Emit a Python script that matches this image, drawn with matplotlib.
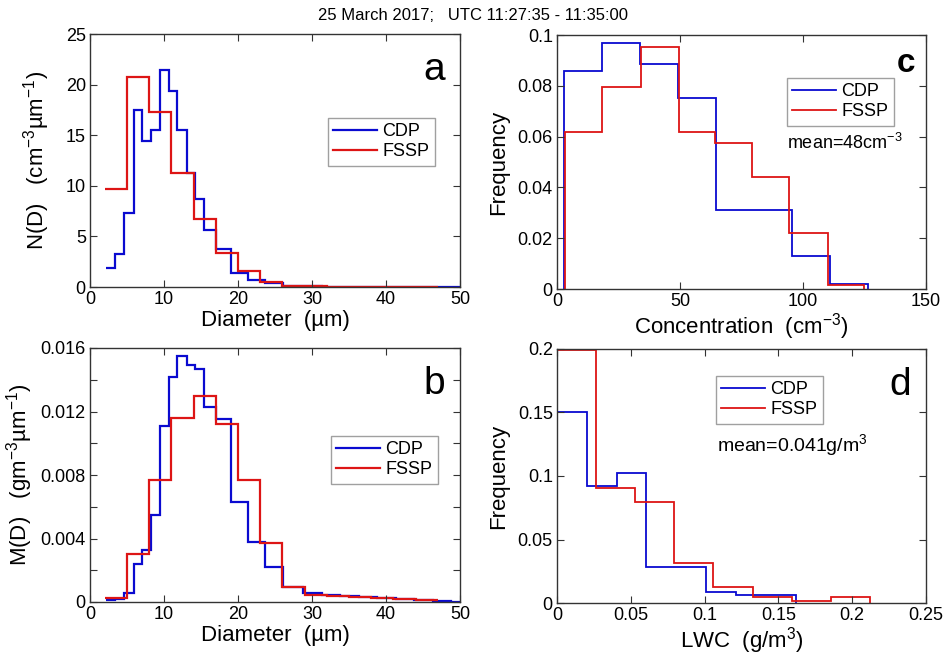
import matplotlib
matplotlib.use('Agg')
import matplotlib.pyplot as plt
from matplotlib import font_manager
from matplotlib.ticker import MultipleLocator, FuncFormatter

plt.rcParams['font.family'] = 'Liberation Sans'
plt.rcParams['mathtext.default'] = 'regular'

# ---- data ----
# panel a / b : size distributions (CDP with its own bin edges, FSSP 3 um bins)
cdp_edges = [2.2, 3.4, 4.6, 5.9, 7.0, 8.3, 9.4, 10.7, 11.8, 13.1, 14.2, 15.4, 17.0,
             19.0, 21.4, 23.6, 26.1, 28.8, 31.3, 33.8, 36.3, 38.8, 41.3, 43.8, 46.3,
             48.8, 50.0]
fssp_edges = [2, 5, 8, 11, 14, 17, 20, 23, 26, 29, 32, 35, 38, 41, 44, 47]

cdp_N = [1.9, 3.3, 7.3, 17.5, 14.4, 15.5, 21.4, 19.4, 15.5, 11.3, 8.7, 5.6, 3.8,
         1.4, 0.7, 0.35, 0.1, 0.06, 0.04, 0.03, 0.02, 0.015, 0.01, 0.01, 0.005, 0.0]
fssp_N = [9.65, 20.8, 17.3, 11.3, 6.7, 3.4, 1.6, 0.53, 0.1, 0.06, 0.04, 0.03,
          0.02, 0.01, 0.01]

cdp_M = [0.00015, 0.0002, 0.00055, 0.0024, 0.0033, 0.0055, 0.0111, 0.0142, 0.0155,
         0.0149, 0.0147, 0.0123, 0.0115, 0.0063, 0.0038, 0.0022, 0.00093, 0.00059,
         0.00044, 0.00035, 0.0003, 0.00025, 0.0002, 0.00012, 0.00005, 0.0]
fssp_M = [0.00023, 0.0030, 0.0077, 0.0116, 0.0130, 0.0112, 0.0077, 0.0037, 0.00093,
          0.00044, 0.00035, 0.0003, 0.00025, 0.0002, 0.00012]

# panel c : concentration frequency
cdp_conc_edges = [3, 18.4, 33.9, 49.3, 64.8, 80.2, 95.6, 111.1, 126.5]
cdp_conc_freq = [0.086, 0.097, 0.0885, 0.075, 0.031, 0.031, 0.013, 0.002]
fssp_conc_edges = [3.2, 18.4, 34.0, 49.4, 64.3, 79.2, 94.5, 110.0, 124.6]
fssp_conc_freq = [0.0617, 0.0794, 0.0952, 0.0617, 0.0574, 0.0442, 0.0219, 0.0016]

# panel d : LWC frequency
cdp_lwc_edges = [0, 0.0202, 0.0404, 0.0606, 0.0808, 0.101, 0.1212, 0.1414, 0.1616]
cdp_lwc_freq = [0.1506, 0.0924, 0.1021, 0.0286, 0.0286, 0.0084, 0.0063, 0.0063]
fssp_lwc_edges = [0, 0.0265, 0.053, 0.0795, 0.106, 0.1325, 0.159, 0.1855, 0.212]
fssp_lwc_freq = [0.199, 0.0908, 0.0793, 0.0317, 0.0128, 0.005, 0.0018, 0.0045]

title = '25 March 2017;   UTC 11:27:35 - 11:35:00'

BLUE = '#0a0ad0'
RED = '#dd1515'
W, H = 947, 658

fig = plt.figure(figsize=(W / 100, H / 100), dpi=100)


def box(x0, y0, x1, y1):
    # pixel box -> figure rect
    return [x0 / W, 1 - y1 / H, (x1 - x0) / W, (y1 - y0) / H]


def style(ax):
    for s in ax.spines.values():
        s.set_color('#333333')
        s.set_linewidth(1.0)
    ax.tick_params(direction='in', top=True, right=True, length=5,
                   labelsize=13, color='#333333', pad=3)


def legend(ax, x, y):
    leg = ax.legend(loc='upper left', bbox_to_anchor=(x / W, 1 - y / H),
                    bbox_transform=fig.transFigure, fontsize=13, fancybox=False,
                    borderaxespad=0, handlelength=2.4, handletextpad=0.3,
                    labelspacing=0.15, borderpad=0.3)
    leg.get_frame().set_edgecolor('#888888')
    leg.get_frame().set_linewidth(1.0)


def ptext(x, y, s, **kw):
    # text placed by pixel position (from top-left)
    fig.text(x / W, 1 - y / H, s, **kw)


fmt = FuncFormatter(lambda v, p: '%g' % round(v, 6))

# ---- a ----
ax = fig.add_axes(box(90, 34, 460, 287))
ax.stairs(cdp_N, cdp_edges, baseline=None, color=BLUE, lw=1.6, label='CDP')
ax.stairs(fssp_N, fssp_edges, baseline=None, color=RED, lw=1.6, label='FSSP')
ax.set_xlim(0, 50)
ax.set_ylim(0, 25)
ax.xaxis.set_major_locator(MultipleLocator(10))
ax.yaxis.set_major_locator(MultipleLocator(5))
style(ax)
ax.set_xlabel('Diameter  (µm)', fontsize=16, labelpad=1)
ax.set_ylabel('N(D)   (cm$^{-3}$µm$^{-1}$)', fontsize=16, labelpad=10)
ax.text(0.96, 0.93, 'a', transform=ax.transAxes, ha='right', va='top', fontsize=28)
legend(ax, 328, 118)

# ---- b ----
ax = fig.add_axes(box(90, 348, 460, 602))
ax.stairs(cdp_M, cdp_edges, baseline=None, color=BLUE, lw=1.6, label='CDP')
ax.stairs(fssp_M, fssp_edges, baseline=None, color=RED, lw=1.6, label='FSSP')
ax.set_xlim(0, 50)
ax.set_ylim(0, 0.016)
ax.xaxis.set_major_locator(MultipleLocator(10))
ax.yaxis.set_major_locator(MultipleLocator(0.002))
ax.yaxis.set_major_formatter(FuncFormatter(
    lambda v, p: ('%g' % round(v, 6)) if round(v / 0.002) % 2 == 0 else ''))
style(ax)
ax.set_xlabel('Diameter  (µm)', fontsize=16, labelpad=1)
ax.set_ylabel('M(D)   (gm$^{-3}$µm$^{-1}$)', fontsize=16, labelpad=4)
ax.text(0.96, 0.93, 'b', transform=ax.transAxes, ha='right', va='top', fontsize=28)
legend(ax, 331, 436)

# ---- c ----
ax = fig.add_axes(box(557, 35, 926, 289))
ax.stairs(cdp_conc_freq, cdp_conc_edges, baseline=0, color=BLUE, lw=1.3, label='CDP')
ax.stairs(fssp_conc_freq, fssp_conc_edges, baseline=0, color=RED, lw=1.3, label='FSSP')
ax.set_xlim(0, 150)
ax.set_ylim(0, 0.1)
ax.xaxis.set_major_locator(MultipleLocator(50))
ax.yaxis.set_major_locator(MultipleLocator(0.02))
ax.yaxis.set_major_formatter(fmt)
style(ax)
ax.set_xlabel('Concentration  (cm$^{-3}$)', fontsize=16, labelpad=1)
ax.set_ylabel('Frequency', fontsize=16, labelpad=6)
ax.text(0.97, 0.95, 'c', transform=ax.transAxes, ha='right', va='top',
        fontsize=24, fontweight='bold')
ptext(787, 143, 'mean=48cm$^{-3}$', fontsize=13, va='center')
legend(ax, 787, 78)

# ---- d ----
ax = fig.add_axes(box(557, 349, 926, 603))
ax.stairs(cdp_lwc_freq, cdp_lwc_edges, baseline=0, color=BLUE, lw=1.3, label='CDP')
ax.stairs(fssp_lwc_freq, fssp_lwc_edges, baseline=0, color=RED, lw=1.3, label='FSSP')
ax.set_xlim(0, 0.25)
ax.set_ylim(0, 0.2)
ax.xaxis.set_major_locator(MultipleLocator(0.05))
ax.yaxis.set_major_locator(MultipleLocator(0.05))
ax.xaxis.set_major_formatter(fmt)
ax.yaxis.set_major_formatter(fmt)
style(ax)
ax.set_xlabel('LWC  (g/m$^3$)', fontsize=16, labelpad=1)
ax.set_ylabel('Frequency', fontsize=16, labelpad=6)
ax.text(0.96, 0.93, 'd', transform=ax.transAxes, ha='right', va='top', fontsize=28)
ptext(717, 445, 'mean=0.041g/m$^3$', fontsize=14, va='center')
legend(ax, 716, 376)

# title in a narrow face if available
names = {f.name for f in font_manager.fontManager.ttflist}
tfam = 'Liberation Sans Narrow' if 'Liberation Sans Narrow' in names else 'Liberation Sans'
ptext(473, 15, title, ha='center', va='center', fontsize=12, family=tfam)

fig.savefig('out.png', dpi=100)
